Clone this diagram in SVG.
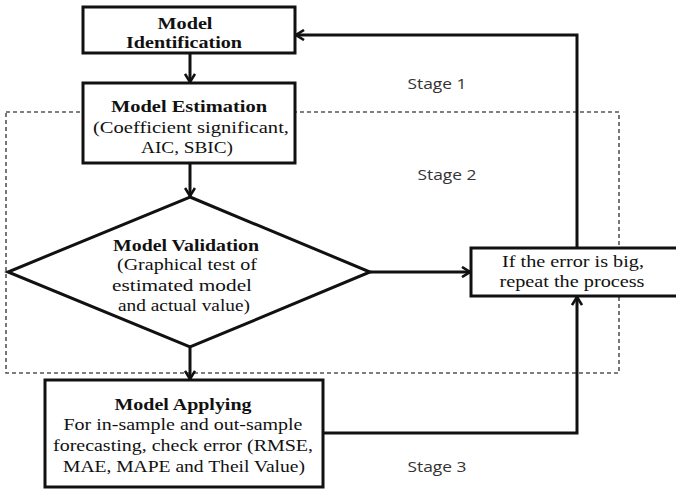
<svg xmlns="http://www.w3.org/2000/svg" width="676" height="490" viewBox="0 0 676 490">
<style>
.box{fill:#fff;stroke:#111;stroke-width:3}
.con{fill:none;stroke:#111;stroke-width:3}
.frame{fill:none;stroke:#555;stroke-width:1.6;stroke-dasharray:4 3}
.t{font-family:"Liberation Serif","Times New Roman",serif;font-size:17px;fill:#111;text-anchor:middle}
.b{font-weight:bold}
.s{font-family:"Open Sans","Liberation Sans",sans-serif;font-size:15px;fill:#333;text-anchor:middle}
</style>
<defs>
<marker id="ah" viewBox="0 0 10 12" refX="9" refY="6" markerWidth="10" markerHeight="12" markerUnits="userSpaceOnUse" orient="auto">
<path d="M1,1 L9,6 L1,11" fill="none" stroke="#111" stroke-width="2.6"/>
</marker>
</defs>
<rect id="stage2-frame" class="frame" x="6" y="112" width="613" height="261"/>
<g id="connectors">
<line class="con" x1="190" y1="53" x2="190" y2="82" marker-end="url(#ah)"/>
<line class="con" x1="190" y1="163" x2="190" y2="196" marker-end="url(#ah)"/>
<line class="con" x1="190" y1="347" x2="190" y2="379" marker-end="url(#ah)"/>
<line class="con" x1="370" y1="272" x2="470" y2="272" marker-end="url(#ah)"/>
<polyline class="con" points="323,433 577,433 577,297" marker-end="url(#ah)"/>
<polyline class="con" points="577,248 577,35 296,35" marker-end="url(#ah)"/>
</g>
<g id="model-identification">
<rect class="box" x="83" y="7" width="212" height="46"/>
<text class="t b" x="185" y="29" textLength="55" lengthAdjust="spacingAndGlyphs">Model</text>
<text class="t b" x="184" y="48" textLength="116" lengthAdjust="spacingAndGlyphs">Identification</text>
</g>
<g id="model-estimation">
<rect class="box" x="83" y="83" width="212" height="80"/>
<text class="t b" x="189" y="112" textLength="156" lengthAdjust="spacingAndGlyphs">Model  Estimation</text>
<text class="t" x="191" y="133" textLength="196" lengthAdjust="spacingAndGlyphs">(Coefficient significant,</text>
<text class="t" x="187" y="153" textLength="92" lengthAdjust="spacingAndGlyphs">AIC, SBIC)</text>
</g>
<g id="model-validation">
<polygon class="box" points="190,197 370,272 190,347 8,272"/>
<text class="t b" x="186" y="251" textLength="146" lengthAdjust="spacingAndGlyphs">Model Validation</text>
<text class="t" x="187" y="270" textLength="140" lengthAdjust="spacingAndGlyphs">(Graphical test of</text>
<text class="t" x="182" y="291" textLength="140" lengthAdjust="spacingAndGlyphs">estimated model</text>
<text class="t" x="184" y="311" textLength="132" lengthAdjust="spacingAndGlyphs">and actual value)</text>
</g>
<g id="repeat">
<rect class="box" x="471" y="248" width="210" height="48"/>
<text class="t" x="573" y="267" textLength="142" lengthAdjust="spacingAndGlyphs">If the error is big,</text>
<text class="t" x="572" y="287" textLength="145" lengthAdjust="spacingAndGlyphs">repeat the process</text>
</g>
<g id="model-applying">
<rect class="box" x="45" y="380" width="278" height="107"/>
<text class="t b" x="183" y="410" textLength="137" lengthAdjust="spacingAndGlyphs">Model Applying</text>
<text class="t" x="183" y="430" textLength="239" lengthAdjust="spacingAndGlyphs">For in-sample and out-sample</text>
<text class="t" x="183" y="451" textLength="260" lengthAdjust="spacingAndGlyphs">forecasting, check error (RMSE,</text>
<text class="t" x="184" y="472" textLength="242" lengthAdjust="spacingAndGlyphs">MAE, MAPE and Theil Value)</text>
</g>
<g id="stage-labels">
<text class="s" x="437" y="89" textLength="59" lengthAdjust="spacingAndGlyphs">Stage 1</text>
<text class="s" x="447" y="180" textLength="59" lengthAdjust="spacingAndGlyphs">Stage 2</text>
<text class="s" x="437" y="472" textLength="59" lengthAdjust="spacingAndGlyphs">Stage 3</text>
</g>
</svg>
